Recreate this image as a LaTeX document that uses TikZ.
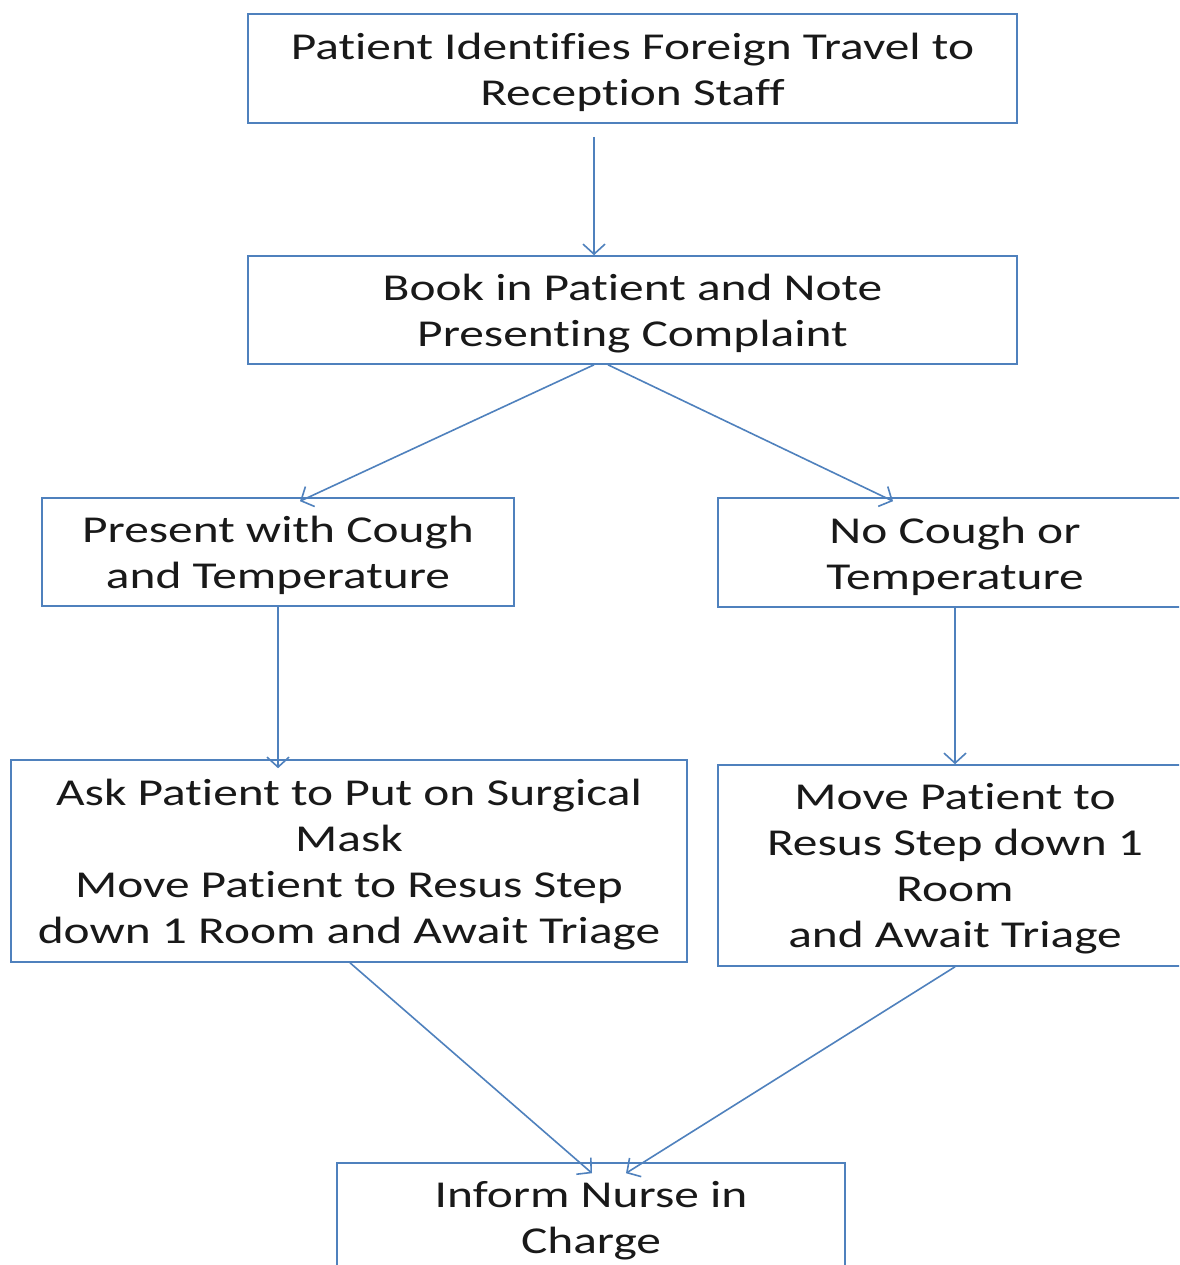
\documentclass[tikz,border=0pt]{standalone}
\usepackage{fontspec}
\setmainfont{Carlito}[FakeStretch=1.3, Ligatures=NoCommon]
\usetikzlibrary{arrows.meta}
\definecolor{flowblue}{HTML}{4F81BD}
\tikzset{
  box/.style={draw=flowblue, line width=1.6pt, rectangle, inner sep=0pt},
  boxtext/.style={align=center, inner sep=0pt, text=black!90, yshift=-3.5pt,
    font=\fontsize{38}{46}\selectfont},
  arr/.style={draw=flowblue, line width=1.6pt,
    -{Straight Barb[length=10pt, width=22pt, line width=1.6pt]}}
}
\begin{document}
\begin{tikzpicture}[x=1pt, y=-1pt]
  \useasboundingbox (0,0) rectangle (1179,1265);
  \clip (0,0) rectangle (1179,1265);
  \fill[white] (0,0) rectangle (1179,1265);

  % process boxes
  \node[box, minimum width=769pt, minimum height=109pt,
    label={[boxtext]center:{Patient Identifies Foreign Travel to\\Reception Staff}}]
    (travel) at (632.5,68.5) {};
  \node[box, minimum width=769pt, minimum height=108pt,
    label={[boxtext]center:{Book in Patient and Note\\Presenting Complaint}}]
    (book) at (632.5,310) {};
  \node[box, minimum width=472pt, minimum height=108pt,
    label={[boxtext]center:{Present with Cough\\and Temperature}}]
    (cough) at (278,552) {};
  \node[box, minimum width=474pt, minimum height=109pt,
    label={[boxtext]center:{No Cough or\\Temperature}}]
    (nocough) at (955,552.5) {};
  \node[box, minimum width=676pt, minimum height=202pt,
    label={[boxtext]center:{Ask Patient to Put on Surgical\\Mask\\Move Patient to Resus Step\\down 1 Room and Await Triage}}]
    (mask) at (349,861) {};
  \node[box, minimum width=474pt, minimum height=201pt,
    label={[boxtext]center:{Move Patient to\\Resus Step down 1\\Room\\and Await Triage}}]
    (resus) at (955,865.5) {};
  \node[box, minimum width=508pt, minimum height=108pt,
    label={[boxtext]center:{Inform Nurse in\\Charge}}]
    (nurse) at (591,1217) {};

  % connectors
  \draw[arr] ([xshift=-38.5pt, yshift=-13pt]travel.south) -- ([xshift=-38.5pt]book.north);
  \draw[arr] ([xshift=-38.5pt]book.south) -- ([xshift=22pt, yshift=-4pt]cough.north);
  \draw[arr] ([xshift=-24.5pt]book.south) -- ([xshift=-62pt, yshift=-4pt]nocough.north);
  \draw[arr] (cough.south) -- ([yshift=-9pt]cough.south |- mask.north);
  \draw[arr] (nocough.south) -- (resus.north);
  \draw[arr] ([xshift=1pt]mask.south) -- ([xshift=1pt, yshift=-11pt]nurse.north);
  \draw[arr] (resus.south) -- ([xshift=35pt, yshift=-11pt]nurse.north);
\end{tikzpicture}
\end{document}
